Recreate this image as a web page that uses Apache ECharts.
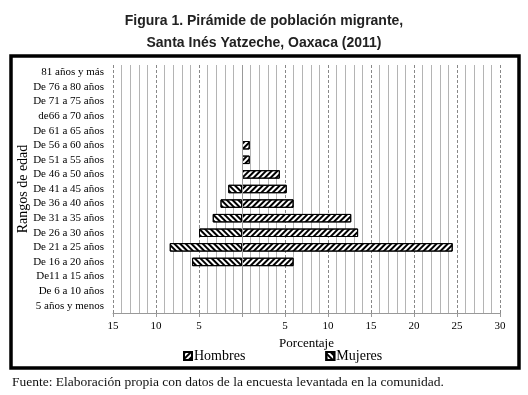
<!DOCTYPE html>
<html><head><meta charset="utf-8">
<script src="https://cdn.jsdelivr.net/npm/echarts@6/dist/echarts.min.js"></script>
<style>html,body{margin:0;padding:0;background:#fff}#c{width:528px;height:395px}</style>
</head><body><div id="c"></div>
<script>
const categories = ['5 años y menos','De 6 a 10 años','De11 a 15 años','De 16 a 20 años','De 21 a 25 años','De 26 a 30 años','De 31 a 35 años','De 36 a 40 años','De 41 a 45 años','De 46 a 50 años','De 51 a 55 años','De 56 a 60 años','De 61 a 65 años','de66 a 70 años','De 71 a 75 años','De 76 a 80 años','81 años y más'];
const hombres = [0,0,0,6.0,24.5,13.5,12.7,6.0,5.2,4.4,0.9,0.9,0,0,0,0,0];
const mujeres = [0,0,0,5.8,8.4,5.0,3.4,2.5,1.6,0,0,0,0,0,0,0,0];
const xTicks = [-15,-10,-5,0,5,10,15,20,25,30];

const serif = '"Liberation Serif","DejaVu Serif",serif';
const chart = echarts.init(document.getElementById('c'), null, {renderer:'canvas'});
const pat = rot => ({symbol:'rect', symbolSize:1, color:'#000', dashArrayX:[1,0], dashArrayY:[1.6,1.4], rotation:rot});
chart.setOption({
  animation:false,
  backgroundColor:'#fff',
  title:{text:'Figura 1. Pirámide de población migrante,\nSanta Inés Yatzeche, Oaxaca (2011)', left:'center', top:5,
    textStyle:{fontFamily:'"Liberation Sans",Arial,sans-serif', fontWeight:'bold', fontSize:14, color:'#222', lineHeight:22}},
  graphic:[
    {type:'rect', shape:{x:11,y:56,width:508,height:312}, style:{fill:'none', stroke:'#000', lineWidth:3.5}, z:10},
    {type:'text', left:12, top:375, style:{text:'Fuente: Elaboración propia con datos de la encuesta levantada en la comunidad.', font:'13.5px '+serif, fill:'#111'}}
  ],
  legend:{data:['Hombres','Mujeres'], icon:'rect', bottom:27, left:178, itemWidth:8, itemHeight:8, itemGap:80,
    textStyle:{fontFamily:serif, fontSize:14, color:'#000', padding:[0,0,0,-3]}},
  grid:{left:113, right:28, top:65, bottom:82},
  xAxis:{type:'value', min:xTicks[0], max:xTicks[xTicks.length-1], interval:5,
    name:'Porcentaje', nameLocation:'middle', nameGap:24,
    nameTextStyle:{fontFamily:serif, fontSize:13, color:'#000'},
    axisLine:{show:true, lineStyle:{color:'#999'}},
    axisTick:{show:true, length:4, lineStyle:{color:'#999'}},
    axisLabel:{fontFamily:serif, fontSize:11, color:'#000', margin:8, formatter:v => v===0 ? '' : String(Math.abs(v))},
    splitLine:{show:true, lineStyle:{color:'#888', type:[3,2], width:1}},
    minorTick:{show:false, splitNumber:5},
    minorSplitLine:{show:true, lineStyle:{color:'#b4b4b4', width:1}}
  },
  yAxis:{type:'category', data:categories, name:'Rangos de edad', nameLocation:'middle', nameGap:83, nameMoveOverlap:false,
    nameTextStyle:{fontFamily:serif, fontSize:14, color:'#000'},
    axisLine:{show:false}, axisTick:{show:false},
    axisLabel:{fontFamily:serif, fontSize:11, color:'#000', margin:9}},
  series:[
    {name:'Hombres', type:'bar', stack:'p', barWidth:'58%', data:hombres.map(v=>v===0?null:v),
      itemStyle:{color:'#fff', borderColor:'#000', borderWidth:1, decal:pat(-Math.PI/4)},
      markLine:{silent:true, symbol:'none', label:{show:false}, lineStyle:{color:'#999', type:'solid', width:1}, data:[{xAxis:0}]}},
    {name:'Mujeres', type:'bar', stack:'p', barWidth:'58%', data:mujeres.map(v=>v===0?null:-v),
      itemStyle:{color:'#fff', borderColor:'#000', borderWidth:1, decal:pat(Math.PI/4)}}
  ]
});
</script></body></html>
